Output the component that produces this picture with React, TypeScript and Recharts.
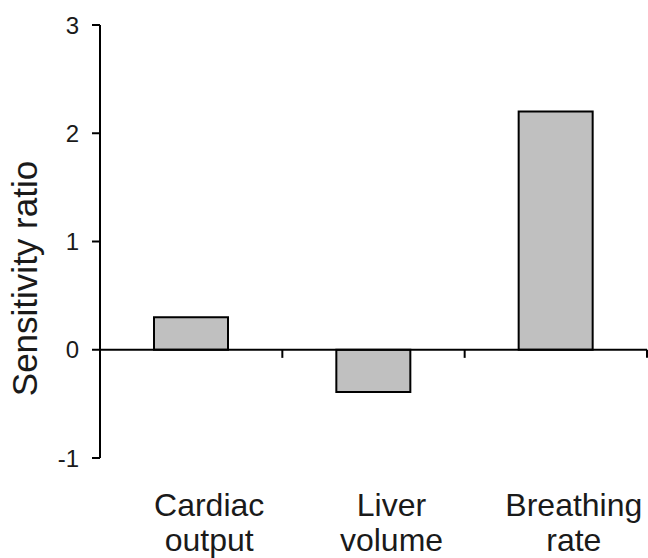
import React from 'react';
import { BarChart, Bar, XAxis, YAxis, ReferenceLine, Label } from 'recharts';

const categories = ['Cardiac output', 'Liver volume', 'Breathing rate'];
const labelLines = [['Cardiac', 'output'], ['Liver', 'volume'], ['Breathing', 'rate']];
const positions = [0.5, 1.5, 2.5];
const values = [0.3, -0.39, 2.2];
const yTicks = [-1, 0, 1, 2, 3];
const boundaries = [1, 2, 3];

const data = categories.map((c, i) => ({ name: c, x: positions[i], value: values[i] }));

const FONT = '"Liberation Sans", Arial, sans-serif';

const CategoryTick = (props: any) => {
  const { x, y, payload } = props;
  const idx = positions.indexOf(payload.value);
  const lines = idx >= 0 ? labelLines[idx] : [];
  return (
    <g>
      {lines.map((ln, i) => (
        <text
          key={i}
          x={x + 18}
          y={y + 58 + i * 35}
          textAnchor="middle"
          fontSize={32}
          fontFamily={FONT}
          fill="#1a1a1a"
        >
          {ln}
        </text>
      ))}
    </g>
  );
};

const YLabel = (props: any) => {
  const vb = props.viewBox || {};
  const cx = vb.x + 37;
  const cy = vb.y + vb.height / 2 + 37;
  return (
    <text
      x={cx}
      y={cy}
      transform={`rotate(-90, ${cx}, ${cy})`}
      textAnchor="middle"
      fontSize={35}
      fontFamily={FONT}
      fill="#1a1a1a"
    >
      Sensitivity ratio
    </text>
  );
};

export default function App() {
  return (
    <div style={{ position: 'absolute', left: 0, top: 0, background: '#fff' }}>
      <BarChart
        width={648}
        height={558}
        data={data}
        margin={{ top: 25, right: 1, left: 0, bottom: 0 }}
      >
        <XAxis
          dataKey="x"
          type="number"
          domain={[0, 3]}
          ticks={positions}
          interval={0}
          axisLine={false}
          tickLine={false}
          tickSize={0}
          tickMargin={0}
          height={100}
          tick={<CategoryTick />}
        />
        <YAxis
          type="number"
          domain={[-1, 3]}
          ticks={yTicks}
          width={100}
          interval={0}
          axisLine={{ stroke: '#000', strokeWidth: 2 }}
          tickLine={{ stroke: '#000', strokeWidth: 2 }}
          tickSize={8}
          tickMargin={13}
          tick={{ fill: '#1a1a1a', fontSize: 24, fontFamily: FONT }}
        >
          <Label content={<YLabel />} />
        </YAxis>
        <Bar
          dataKey="value"
          fill="#c0c0c0"
          stroke="#000"
          strokeWidth={2}
          barSize={74}
          isAnimationActive={false}
        />
        <ReferenceLine y={0} stroke="#000" strokeWidth={2} ifOverflow="visible" />
        {boundaries.map((b) => (
          <ReferenceLine
            key={b}
            segment={[{ x: b, y: 0 }, { x: b, y: -0.075 }]}
            stroke="#000"
            strokeWidth={2}
            ifOverflow="visible"
          />
        ))}
      </BarChart>
    </div>
  );
}
